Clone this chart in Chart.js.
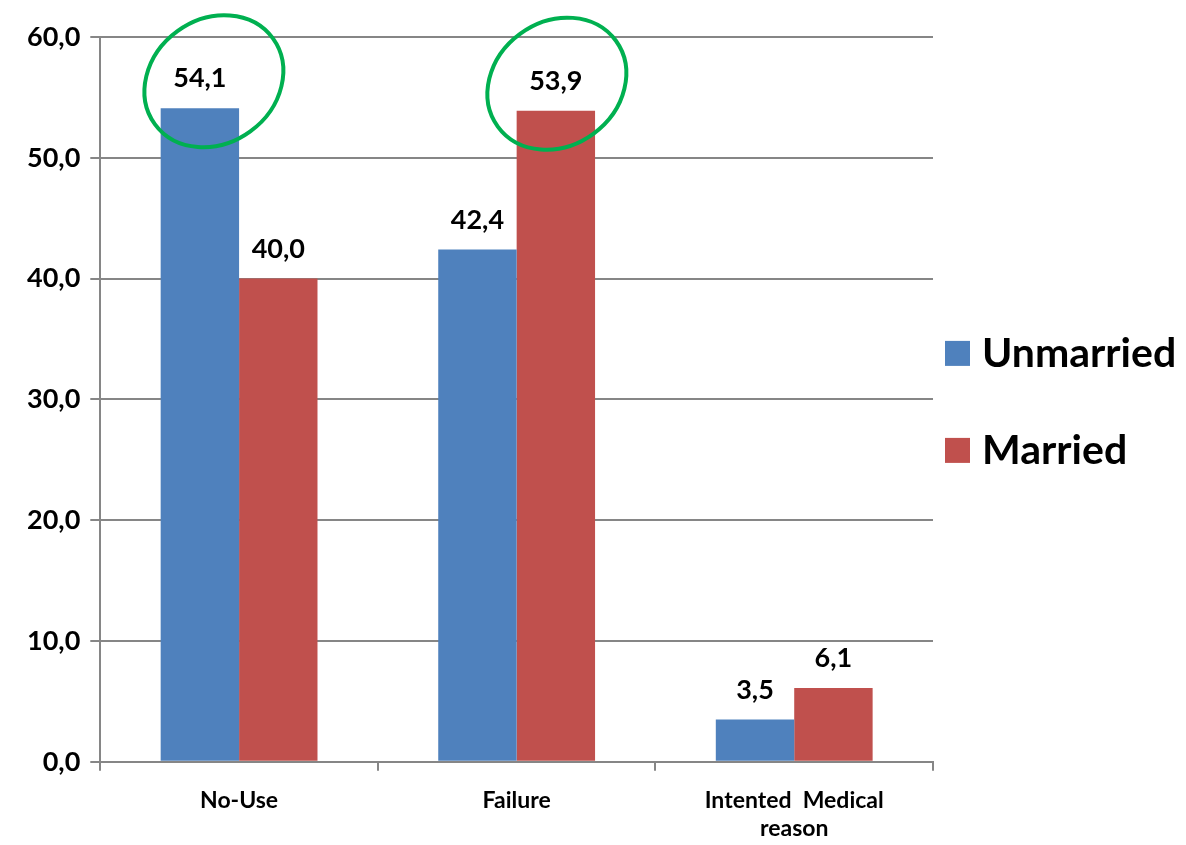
<!DOCTYPE html>
<html>
<head>
<meta charset="utf-8">
<script src="https://cdn.jsdelivr.net/npm/chart.js@4.4.1/dist/chart.umd.min.js"></script>
<style>
html,body{margin:0;padding:0;background:#fff;}
#wrap{width:1186px;height:845px;position:relative;}
</style>
</head>
<body>
<div id="wrap"><canvas id="c" width="1186" height="845"></canvas></div>
<script>
const categories = ["No-Use", "Failure", ["Intented  Medical", "reason"]];
const seriesNames = ["Unmarried", "Married"];
const unmarried = [54.1, 42.4, 3.5];
const married = [40.0, 53.9, 6.1];
const seriesColors = ['#4F81BD', '#C0504D'];
const highlighted = [[0, 0], [1, 1]]; // [datasetIndex, dataIndex] circled in green
const yTicks = [0, 10, 20, 30, 40, 50, 60];

const FONT = "Lato, 'Open Sans', sans-serif";
const fmt = v => v.toFixed(1).replace('.', ',');

const labelPlugin = {
  id: 'valueLabels',
  afterDatasetsDraw(chart) {
    const ctx = chart.ctx;
    ctx.save();
    ctx.font = "bold 27px " + FONT;
    ctx.fillStyle = "#000";
    ctx.textAlign = "center";
    ctx.textBaseline = "bottom";
    chart.data.datasets.forEach((ds, di) => {
      const meta = chart.getDatasetMeta(di);
      meta.data.forEach((bar, i) => {
        ctx.fillText(fmt(ds.data[i]), bar.x, bar.y - 16);
      });
    });
    ctx.strokeStyle = "#00B050";
    ctx.lineWidth = 4;
    highlighted.forEach(([di, i], k) => {
      const bar = chart.getDatasetMeta(di).data[i];
      const cx = bar.x + (k === 0 ? 14 : 1);
      const cy = bar.y - 27;
      ctx.beginPath();
      ctx.ellipse(cx, cy, 73, 62, -Math.PI / 5, 0, Math.PI * 2);
      ctx.stroke();
    });
    ctx.restore();
  }
};

const legendPlugin = {
  id: 'sideLegend',
  afterDraw(chart) {
    const ctx = chart.ctx;
    const area = chart.chartArea;
    const mid = (area.top + area.bottom) / 2 + 2;
    const spacing = 97;
    ctx.save();
    ctx.font = "bold 41px " + FONT;
    ctx.textBaseline = "middle";
    ctx.textAlign = "left";
    chart.data.datasets.forEach((ds, i) => {
      const cy = mid + (i - (chart.data.datasets.length - 1) / 2) * spacing;
      ctx.fillStyle = ds.backgroundColor;
      ctx.fillRect(area.right + 12, cy - 12, 25, 25);
      ctx.fillStyle = '#000';
      ctx.fillText(ds.label, area.right + 49, cy + 1);
    });
    ctx.restore();
  }
};

function build() {
  new Chart(document.getElementById('c'), {
    type: 'bar',
    data: {
      labels: categories,
      datasets: [
        { label: seriesNames[0], data: unmarried, backgroundColor: seriesColors[0] },
        { label: seriesNames[1], data: married, backgroundColor: seriesColors[1] }
      ]
    },
    options: {
      responsive: false,
      animation: false,
      devicePixelRatio: 1,
      categoryPercentage: 0.565,
      barPercentage: 1.0,
      layout: { padding: { top: 37, left: 17, right: 253, bottom: -13 } },
      plugins: {
        legend: { display: false },
        tooltip: { enabled: false }
      },
      scales: {
        x: {
          offset: true,
          grid: { offset: true, drawOnChartArea: false, drawTicks: true, tickLength: 9, color: '#868686', lineWidth: 2 },
          border: { color: '#868686', width: 2 },
          ticks: { color: '#000', font: { family: FONT, size: 23, weight: 'bold' }, padding: 16, maxRotation: 0, autoSkip: false }
        },
        y: {
          min: 0, max: 60,
          afterBuildTicks(scale) { scale.ticks = yTicks.map(v => ({ value: v })); },
          grid: { color: '#868686', lineWidth: 2, tickLength: 10 },
          border: { color: '#868686', width: 2 },
          ticks: { color: '#000', font: { family: FONT, size: 27, weight: 'bold' }, padding: 10, callback: v => fmt(v) }
        }
      }
    },
    plugins: [labelPlugin, legendPlugin]
  });
}

if (document.fonts && document.fonts.load) {
  Promise.all([
    document.fonts.load("bold 27px Lato"),
    document.fonts.load("bold 41px Lato")
  ]).then(build, build);
} else {
  build();
}
</script>
</body>
</html>
